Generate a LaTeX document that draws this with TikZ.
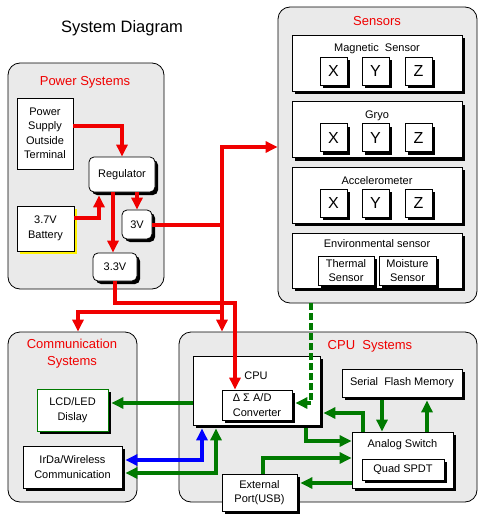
\documentclass[tikz,border=0pt]{standalone}
\usepackage{fontspec}
\setmainfont{Liberation Sans}
\usetikzlibrary{arrows.meta,shadows}
\definecolor{grpgray}{RGB}{234,234,234}
\definecolor{sigreen}{RGB}{0,122,0}
\definecolor{pwrred}{RGB}{240,0,0}
\tikzset{
  group/.style={draw=black,fill=grpgray,rounded corners=12pt,line width=0.8pt,inner sep=0pt},
  grptitle/.style={text=pwrred,font=\fontsize{13}{17}\selectfont,align=center,inner sep=0pt},
  plain/.style={font=\fontsize{11}{14.5}\selectfont,inner sep=0pt,align=center},
  box/.style={plain,draw=black,fill=white,line width=0.8pt},
  sbox/.style={box,drop shadow={shadow xshift=3pt,shadow yshift=-3pt,fill=black,opacity=1}},
  rbox/.style={sbox,rounded corners=5pt},
  xyzbox/.style={sbox,minimum width=27pt,minimum height=28pt,font=\fontsize{16}{18}\selectfont},
  pwr/.style={draw=pwrred,line width=4pt},
  sig/.style={draw=sigreen,line width=4pt},
  >={Triangle[length=12pt,width=11pt]}
}
\begin{document}
\begin{tikzpicture}[x=1pt,y=-1pt]
  \useasboundingbox (0,0) rectangle (489,525);
  \node[font=\fontsize{16.5}{19}\selectfont] (title) at (122,28) {System Diagram};
  % groups
  \node[group,minimum width=156pt,minimum height=226pt] (pwrgrp) at (86,176) {};
  \node[grptitle] (pwrttl) at (85,82) {Power Systems};
  \node[group,minimum width=199pt,minimum height=296pt] (sensgrp) at (377.5,155) {};
  \node[grptitle] (sensttl) at (377,21) {Sensors};
  \node[group,minimum width=129pt,minimum height=170pt] (commgrp) at (72.5,417) {};
  \node[grptitle] (commttl) at (72,353.5) {Communication\\Systems};
  \node[group,minimum width=298pt,minimum height=170pt] (cpugrp) at (328,417) {};
  \node[grptitle] (cputtl) at (370,346) {CPU\ \ Systems};
  % power
  \node[box,minimum width=56pt,minimum height=71pt] (psu) at (45,133.5) {Power\\Supply\\Outside\\Terminal};
  \node[rbox,minimum width=66pt,minimum height=35pt] (reg) at (122,174.5) {Regulator};
  \node[box,minimum width=57pt,minimum height=45pt,
        drop shadow={shadow xshift=3pt,shadow yshift=-3pt,fill=yellow,opacity=1}] (bat) at (45.5,228.5) {3.7V\\Battery};
  \node[rbox,minimum width=30pt,minimum height=29pt] (v3) at (137,224.5) {3V};
  \node[rbox,minimum width=44pt,minimum height=28pt] (v33) at (115,267) {3.3V};
  % sensors
  \foreach \nm/\ttl/\cy in {mag/{Magnetic\ \ Sensor}/63,gyro/Gryo/129.5,acc/Accelerometer/195}{
    \node[sbox,minimum width=170pt,minimum height=56pt] (\nm) at (377,\cy) {};
    \node[plain] (\nm-ttl) at (377,\cy-14) {\ttl};
    \foreach \ax/\ox in {X/-43.5,Y/-1.5,Z/41.5}
      \node[xyzbox] (\nm\ax) at (377+\ox,\cy+8) {\ax};
  }
  \node[sbox,minimum width=170pt,minimum height=55pt] (env) at (377,260.5) {};
  \node[plain] (env-ttl) at (377,244) {Environmental sensor};
  \node[sbox,minimum width=56pt,minimum height=29pt] (therm) at (346,270.5) {Thermal\\Sensor};
  \node[sbox,minimum width=57pt,minimum height=29pt] (moist) at (407.5,270.5) {Moisture\\Sensor};
  % communication
  \node[sbox,draw=sigreen,minimum width=71pt,minimum height=42pt] (lcd) at (72.5,410) {LCD/LED\\Dislay};
  \node[sbox,minimum width=99pt,minimum height=42pt] (irda) at (72.5,467) {IrDa/Wireless\\Communication};
  % cpu
  \node[sbox,minimum width=127pt,minimum height=69pt] (cpu) at (256.5,390.5) {};
  \node[plain] (cpulbl) at (256,376) {CPU};
  \node[sbox,minimum width=70pt,minimum height=30pt,align=left] (ad) at (257,405) {Δ\ Σ A/D\\Converter};
  \node[sbox,minimum width=120pt,minimum height=28pt] (flash) at (402,383) {Serial\ \ Flash Memory};
  \node[sbox,minimum width=101pt,minimum height=56pt] (asw) at (402.5,460) {};
  \node[plain] (aswlbl) at (402.5,445) {Analog Switch};
  \node[sbox,minimum width=82pt,minimum height=21pt] (spdt) at (403,469.5) {Quad SPDT};
  \node[sbox,minimum width=75pt,minimum height=37pt] (usb) at (259.5,492.5) {External\\Port(USB)};
  % power lines
  \coordinate (bus) at (222,147);
  \coordinate (split) at (222,312);
  \draw[pwr,->] ([yshift=7.5pt]psu.east) -| (reg.north);
  \draw[pwr,->] ([yshift=10.5pt]bat.east) -| ([xshift=-23pt,yshift=-3pt]reg.south);
  \draw[pwr,->] ([xshift=-9pt]reg.south) -- ([xshift=-9pt]reg.south |- v33.north);
  \draw[pwr,->] (v3.north |- reg.south) -- (v3.north);
  \draw[pwr] (v3.east) -- (v3.east -| bus);
  \draw[pwr,<->] (bus |- cpugrp.north) -- (bus) -- (bus -| sensgrp.west);
  \draw[pwr,->] (split) -| ([xshift=5.5pt]commgrp.north);
  \draw[pwr,->] (v33.south) -- ++(0,22) -| ([xshift=-22pt]ad.north);
  % signal lines
  \draw[sig,->] ([yshift=-12.5pt]cpu.west) -- ([xshift=3pt,yshift=-12.5pt]cpu.west -| lcd.east);
  \draw[sig,<->,draw=blue] ([xshift=3pt,yshift=7pt]irda.east) -| ([xshift=-54.5pt,yshift=-3pt]cpu.south);
  \draw[sig,<->] ([xshift=3pt,yshift=-6pt]irda.east) -| ([xshift=-40.5pt,yshift=-3pt]cpu.south);
  \draw[sig,->] ([xshift=-20pt,yshift=-3pt]flash.south) -- ([xshift=-20pt]flash.south |- asw.north);
  \draw[sig,->] ([xshift=25pt]flash.south |- asw.north) -- ([xshift=25pt,yshift=-3pt]flash.south);
  \draw[sig,->] ([xshift=-39.5pt]asw.north) |- ([xshift=3pt,yshift=-22.5pt]cpu.east);
  \draw[sig,->] ([xshift=49.5pt,yshift=-3pt]cpu.south) |- ([yshift=19pt]asw.west);
  \draw[sig,->] ([xshift=3.5pt]usb.north) |- ([yshift=2pt]asw.west);
  \draw[sig,->] ([yshift=-23pt]asw.west) -- ([xshift=3pt,yshift=-23pt]asw.west -| usb.east);
  \draw[sig,->,dash pattern=on 7pt off 3pt] ([xshift=-66.5pt]sensgrp.south) |- ([xshift=3pt,yshift=2pt]ad.east);
\end{tikzpicture}
\end{document}
